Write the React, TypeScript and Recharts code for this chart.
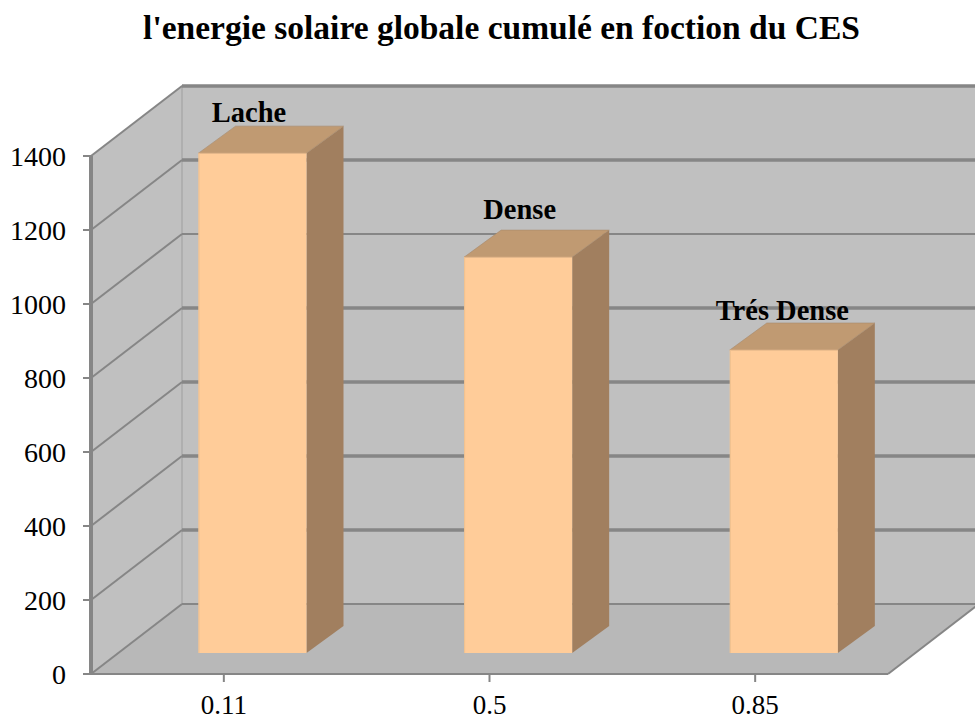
import { BarChart, Bar, XAxis, YAxis, CartesianGrid, LabelList } from 'recharts';

const categories = ['0.11', '0.5', '0.85'];
const values = [1351, 1070, 819];
const densityLabels = ['Lache', 'Dense', 'Trés Dense'];
const yTicks = [0, 200, 400, 600, 800, 1000, 1200, 1400];

const chartData = categories.map((ces, i) => ({ ces, energie: values[i], density: densityLabels[i] }));

const WIDTH = 975;
const HEIGHT = 720;
const PLOT_LEFT = 91;
const PLOT_RIGHT = 888;
const PLOT_TOP = 156;
const PLOT_BOTTOM = 674;
const X_AXIS_HEIGHT = 40;

// depth of the fake 3d box, and how far into it the bars stand
const DEPTH_X = 91;
const DEPTH_Y = 70;
const BAR_DX = 28.5;
const BAR_DY = 21;
const SIDE_X = 37;
const SIDE_Y = 27;

const GRID_COLOR = '#868686';
const SERIF = '"Liberation Serif", serif';

const pts = (list: number[][]) => list.map(p => p.join(',')).join(' ');

// front, top and side faces of one bar
const Bar3D = (props: any) => {
  const { x, y, width, height } = props;
  const left = x + BAR_DX;
  const right = left + width;
  const top = y - BAR_DY;
  const bottom = top + height;
  return (
    <g>
      <polygon
        points={pts([[right, top], [right + SIDE_X, top - SIDE_Y], [right + SIDE_X, bottom - SIDE_Y], [right, bottom]])}
        fill="#a17f5f"
      />
      <polygon
        points={pts([[left, top], [left + SIDE_X, top - SIDE_Y], [right + SIDE_X, top - SIDE_Y], [right, top]])}
        fill="#c09a72"
        stroke="#a68a6c"
        strokeWidth={0.6}
      />
      <rect x={left} y={top} width={width} height={height} fill="#ffcc99" />
      <line x1={left} y1={top} x2={right} y2={top} stroke="#d9ae82" strokeWidth={1} />
      <line x1={left + 0.5} y1={top} x2={left + 0.5} y2={bottom} stroke="#efc08f" strokeWidth={1} />
    </g>
  );
};

// the labels were placed by hand in the original, so each has its own lift
const labelLift = [31, 38, 30];
const labelShift = [25, 30, 27];

const DensityLabel = (props: any) => {
  const { x, y, width, value, index } = props;
  return (
    <text
      x={x + width / 2 + labelShift[index]}
      y={y - BAR_DY - labelLift[index]}
      textAnchor="middle"
      fontFamily={SERIF}
      fontSize={28.5}
      fontWeight="bold"
      fill="#000"
    >
      {value}
    </text>
  );
};

// walls and floor have to sit under the grid lines, so they go in with the first line
const Walls = () => (
  <g>
    <polygon
      points={pts([
        [PLOT_LEFT, PLOT_TOP],
        [PLOT_LEFT + DEPTH_X, PLOT_TOP - DEPTH_Y],
        [PLOT_LEFT + DEPTH_X, PLOT_BOTTOM - DEPTH_Y],
        [PLOT_LEFT, PLOT_BOTTOM],
      ])}
      fill="#c0c0c0"
    />
    <polygon
      points={pts([
        [PLOT_LEFT + DEPTH_X, PLOT_TOP - DEPTH_Y],
        [PLOT_RIGHT + DEPTH_X, PLOT_TOP - DEPTH_Y],
        [PLOT_RIGHT + DEPTH_X, PLOT_BOTTOM - DEPTH_Y],
        [PLOT_LEFT + DEPTH_X, PLOT_BOTTOM - DEPTH_Y],
      ])}
      fill="#c0c0c0"
      stroke="#a9a9a9"
      strokeWidth={1.5}
    />
    <polygon
      points={pts([
        [PLOT_LEFT, PLOT_BOTTOM],
        [PLOT_RIGHT, PLOT_BOTTOM],
        [PLOT_RIGHT + DEPTH_X, PLOT_BOTTOM - DEPTH_Y],
        [PLOT_LEFT + DEPTH_X, PLOT_BOTTOM - DEPTH_Y],
      ])}
      fill="#b8b8b8"
    />
    <line
      x1={PLOT_RIGHT}
      y1={PLOT_BOTTOM}
      x2={PLOT_RIGHT + DEPTH_X}
      y2={PLOT_BOTTOM - DEPTH_Y}
      stroke={GRID_COLOR}
      strokeWidth={2}
    />
  </g>
);

// each grid line runs across the side wall, then along the back wall
const GridLine = (props: any) => {
  const { y1, index } = props;
  const backY = y1 - DEPTH_Y;
  // the floor line and the one behind 1000 come out thinner in the reference
  const isThin = y1 >= PLOT_BOTTOM || Math.abs(backY - 234) < 3;
  return (
    <g>
      {index === 0 && <Walls />}
      <line x1={PLOT_LEFT} y1={y1} x2={PLOT_LEFT + DEPTH_X} y2={backY} stroke={GRID_COLOR} strokeWidth={2} />
      <line
        x1={PLOT_LEFT + DEPTH_X}
        y1={backY}
        x2={PLOT_RIGHT + DEPTH_X}
        y2={backY}
        stroke={GRID_COLOR}
        strokeWidth={isThin ? 2 : 3.5}
      />
    </g>
  );
};

export default function App() {
  return (
    <div style={{ position: 'absolute', left: 0, top: 0, width: WIDTH, height: HEIGHT, background: '#fff' }}>
      <BarChart
        width={WIDTH}
        height={HEIGHT}
        data={chartData}
        margin={{ top: PLOT_TOP, right: WIDTH - PLOT_RIGHT, bottom: HEIGHT - PLOT_BOTTOM - X_AXIS_HEIGHT, left: 0 }}
        barCategoryGap={79}
      >
        <text x={501.5} y={39} textAnchor="middle" fontFamily={SERIF} fontSize={33.5} fontWeight="bold" fill="#000">
          l'energie solaire globale cumulé en foction du CES
        </text>

        <CartesianGrid horizontal={GridLine} vertical={false} stroke={GRID_COLOR} />
        <XAxis
          dataKey="ces"
          height={X_AXIS_HEIGHT}
          axisLine={{ stroke: GRID_COLOR, strokeWidth: 2 }}
          tickLine={{ stroke: GRID_COLOR, strokeWidth: 2 }}
          tickSize={8}
          tick={{ fontFamily: SERIF, fontSize: 27, fill: '#000' }}
          tickMargin={13}
          interval={0}
        />
        <YAxis
          domain={[0, 1400]}
          ticks={yTicks}
          width={91}
          axisLine={{ stroke: GRID_COLOR, strokeWidth: 4 }}
          tickLine={{ stroke: GRID_COLOR, strokeWidth: 2 }}
          tickSize={8}
          tick={{ fontFamily: SERIF, fontSize: 28, fill: '#000' }}
          tickMargin={17}
          interval={0}
        />
        <Bar dataKey="energie" shape={Bar3D} isAnimationActive={false}>
          <LabelList dataKey="density" content={DensityLabel} />
        </Bar>
      </BarChart>
    </div>
  );
}
